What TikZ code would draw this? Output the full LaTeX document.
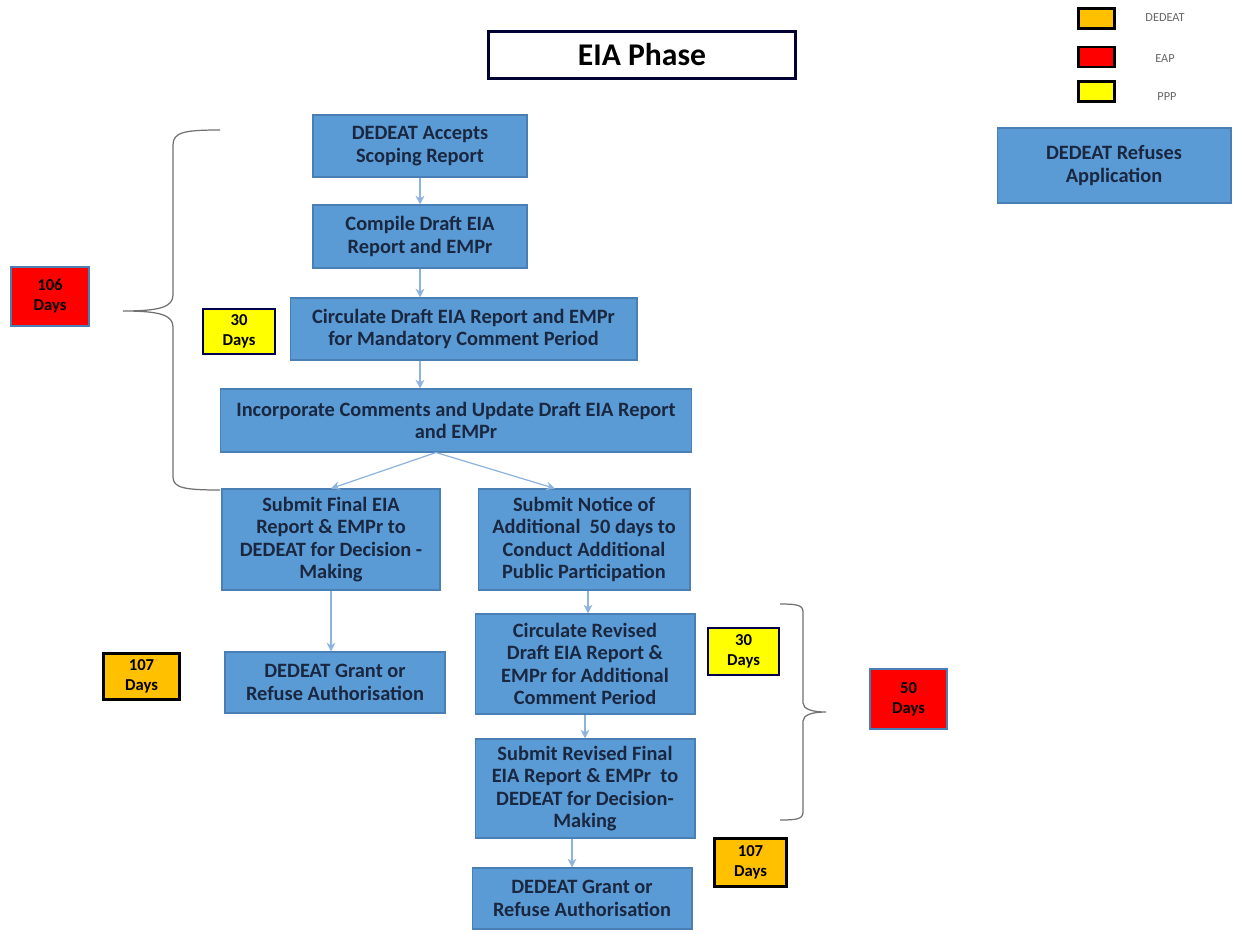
\documentclass[tikz,border=0pt]{standalone}
\usepackage{fontspec}
\setmainfont{Carlito}
\usetikzlibrary{arrows.meta,calc}
\definecolor{boxblue}{HTML}{5B9BD5}
\definecolor{boxedge}{HTML}{4A7FB5}
\definecolor{boxtext}{HTML}{1A2740}
\definecolor{arrowblue}{HTML}{8EB4DE}
\definecolor{dorange}{HTML}{FFC000}
\definecolor{dred}{HTML}{FF0000}
\definecolor{dyellow}{HTML}{FFFF00}
\definecolor{bracegray}{HTML}{707070}
\tikzset{
  stepbox/.style={draw=boxedge, line width=0.6pt, fill=boxblue, align=center, inner sep=2pt,
    font=\fontsize{11.6}{12.8}\selectfont\bfseries, text=boxtext},
  daybox/.style={align=center, inner sep=1pt, font=\fontsize{9.5}{11.5}\selectfont\bfseries, text=black},
  legbox/.style={draw=black, line width=1.6pt, minimum width=0.72cm, minimum height=0.4cm, inner sep=0pt},
  legtext/.style={font=\fontsize{7}{8}\selectfont, text=black!60},
  flow/.style={draw=arrowblue, line width=0.7pt, -{Stealth[length=5pt,width=5pt]}},
  bracel/.style={draw=bracegray, line width=0.7pt}
}
\begin{document}
\begin{tikzpicture}[x=0.02cm,y=-0.02cm]
\useasboundingbox (0,0) rectangle (1240,933);
% title
\node[draw=black!80!blue, line width=1.6pt, fill=white, minimum width=6.15cm, minimum height=0.95cm,
  font=\fontsize{18}{20}\selectfont\bfseries] (title) at (642,55) {EIA Phase};
% legend
\node[legbox, fill=dorange] (lo) at (1096.5,18.5) {};
\node[legbox, fill=dred] (lr) at (1096.5,57) {};
\node[legbox, fill=dyellow] (ly) at (1096.5,91.5) {};
\node[legtext] (lot) at (1165,18) {DEDEAT};
\node[legtext] (lrt) at (1165,59) {EAP};
\node[legtext] (lyt) at (1167,97) {PPP};
% main boxes
\node[stepbox, minimum width=4.28cm, minimum height=1.24cm] (b1) at (420,146) {DEDEAT Accepts\\Scoping Report};
\node[stepbox, minimum width=4.28cm, minimum height=1.26cm] (b2) at (420,236.5) {Compile Draft EIA\\Report and EMPr};
\node[stepbox, minimum width=6.94cm, minimum height=1.24cm] (b3) at (463.5,329) {Circulate Draft EIA Report and EMPr\\for Mandatory Comment Period};
\node[stepbox, minimum width=9.44cm, minimum height=1.26cm] (b4) at (456,420.5) {Incorporate Comments and Update Draft EIA Report\\and EMPr};
\node[stepbox, minimum width=4.36cm, minimum height=2.02cm] (b5) at (331,539.5) {Submit Final EIA\\Report \& EMPr to\\DEDEAT for Decision -\\Making};
\node[stepbox, minimum width=4.24cm, minimum height=2.02cm] (b6) at (584,539.5) {Submit Notice of\\Additional\ \ 50 days to\\Conduct Additional\\Public Participation};
\node[stepbox, minimum width=4.4cm, minimum height=1.22cm] (b7) at (335,682.5) {DEDEAT Grant or\\Refuse Authorisation};
\node[stepbox, minimum width=4.4cm, minimum height=2.0cm] (b8) at (585,664) {Circulate Revised\\Draft EIA Report \&\\EMPr for Additional\\Comment Period};
\node[stepbox, minimum width=4.4cm, minimum height=1.98cm] (b9) at (585,788.5) {Submit Revised Final\\EIA Report \& EMPr\ \ to\\DEDEAT for Decision-\\Making};
\node[stepbox, minimum width=4.4cm, minimum height=1.22cm] (b10) at (582,898.5) {DEDEAT Grant or\\Refuse Authorisation};
\node[stepbox, minimum width=4.68cm, minimum height=1.5cm] (ref) at (1114,165.5) {DEDEAT Refuses\\Application};
% day boxes
\node[daybox, draw=boxedge, line width=1.4pt, fill=dred, minimum width=1.56cm, minimum height=1.18cm] (d106) at (50,296.5) {106\\Days};
\node[daybox, draw=black!70!blue, line width=1.4pt, fill=dyellow, minimum width=1.44cm, minimum height=0.9cm] (d30a) at (239,331.5) {30\\Days};
\node[daybox, draw=black, line width=2pt, fill=dorange, minimum width=1.52cm, minimum height=0.92cm] (d107a) at (141.5,676.5) {107\\Days};
\node[daybox, draw=black!70!blue, line width=1.4pt, fill=dyellow, minimum width=1.42cm, minimum height=0.94cm] (d30b) at (743.5,651.5) {30\\Days};
\node[daybox, draw=boxedge, line width=1.4pt, fill=dred, minimum width=1.54cm, minimum height=1.2cm] (d50) at (908.5,699) {50\\Days};
\node[daybox, draw=black, line width=2pt, fill=dorange, minimum width=1.44cm, minimum height=0.96cm] (d107b) at (750.5,862.5) {107\\Days};
% arrow anchor points
\coordinate (a4) at ($(b4.south)+(-20,0)$);
\coordinate (a6in) at ($(b6.north)+(-29,0)$);
\coordinate (a6out) at ($(b6.south)+(4,0)$);
\coordinate (a8in) at (a6out |- b8.north);
\coordinate (a9out) at ($(b9.south)+(-13,0)$);
\coordinate (a10in) at (a9out |- b10.north);
% arrows
\draw[flow] (b1.south) -- (b2.north);
\draw[flow] (b2.south) -- (b2.south |- b3.north);
\draw[flow] (b2.south |- b3.south) -- (b2.south |- b4.north);
\draw[flow] (a4) -- (b5.north);
\draw[flow] (a4) -- (a6in);
\draw[flow] (b5.south) -- (b5.south |- b7.north);
\draw[flow] (a6out) -- (a8in);
\draw[flow] (b8.south) -- (b8.south |- b9.north);
\draw[flow] (a9out) -- (a10in);
% left brace
\coordinate (lbtop) at (220,130);
\coordinate (lbtip) at (123,311);
\coordinate (lbbot) at (220,490);
\draw[bracel] (lbtop) .. controls (185,130) and (173,132) .. (173,145)
  -- (173,295) .. controls (173,307) and (160,311) .. (lbtip)
  .. controls (160,311) and (173,315) .. (173,327)
  -- (173,477) .. controls (173,488) and (185,490) .. (lbbot);
% right brace
\coordinate (rbtop) at (780,604);
\coordinate (rbtip) at (826,712);
\coordinate (rbbot) at (780,820);
\draw[bracel] (rbtop) .. controls (797,604) and (803,605) .. (803,612)
  -- (803,703) .. controls (803,709) and (812,712) .. (rbtip)
  .. controls (812,712) and (803,715) .. (803,721)
  -- (803,812) .. controls (803,819) and (797,820) .. (rbbot);
\end{tikzpicture}
\end{document}
